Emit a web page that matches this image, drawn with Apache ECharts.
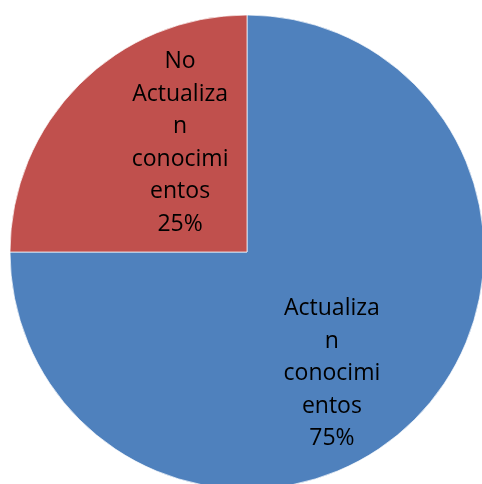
<!DOCTYPE html>
<html>
<head>
<meta charset="utf-8">
<script src="https://cdn.jsdelivr.net/npm/echarts@6/dist/echarts.min.js"></script>
<style>html,body{margin:0;padding:0;background:#fff}#c{width:482px;height:484px}</style>
</head>
<body>
<div id="c"></div>
<script>
var categories = ['Actualizan conocimientos', 'No Actualizan conocimientos'];
var labelLines = [
  ['Actualiza', 'n', 'conocimi', 'entos'],
  ['No', 'Actualiza', 'n', 'conocimi', 'entos']
];
var values = [75, 25];
var colors = ['#4F81BD', '#C0504D'];

var chart = echarts.init(document.getElementById('c'));
chart.setOption({
  animation: false,
  series: [{
    type: 'pie',
    center: [247, 252],
    radius: [0, 237],
    startAngle: 90,
    clockwise: true,
    itemStyle: { borderColor: '#fff', borderWidth: 0.7 },
    label: {
      show: true,
      position: 'inside',
      color: '#000',
      fontFamily: 'Open Sans',
      fontSize: 23,
      lineHeight: 32.5,
      align: 'center',
      formatter: function (p) {
        return labelLines[p.dataIndex].join('\n') + '\n' + Math.round(p.percent) + '%';
      }
    },
    labelLayout: function (p) {
      if (p.dataIndex === 0) return { dx: -1, dy: 36 };
      return { dx: 19, dy: -23 };
    },
    data: categories.map(function (n, i) {
      return { name: n, value: values[i], itemStyle: { color: colors[i] } };
    })
  }]
});
</script>
</body>
</html>
